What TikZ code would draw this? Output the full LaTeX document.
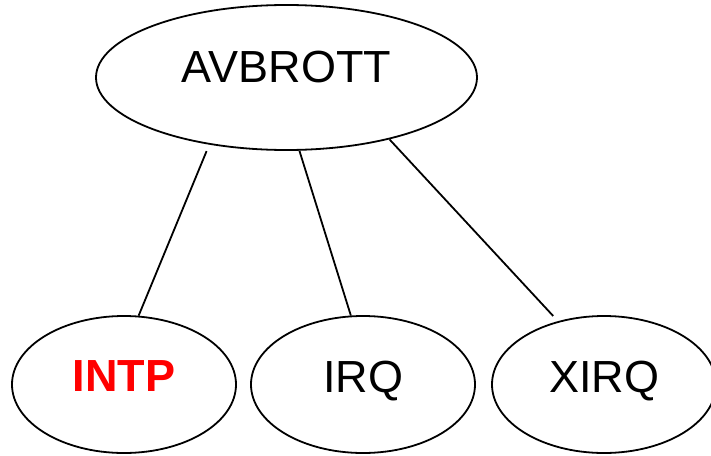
\documentclass[tikz,border=0pt]{standalone}
\usepackage{fontspec}
\setmainfont{Liberation Sans}
\usetikzlibrary{shapes.geometric}

\begin{document}
\begin{tikzpicture}[x=1pt,y=-1pt,line width=1.8pt,
    rootnode/.style={draw,ellipse,minimum width=381pt,minimum height=145pt,text depth=22pt,font=\fontsize{45}{54}\selectfont},
    leafnode/.style={draw,ellipse,minimum width=224pt,minimum height=137pt,text depth=16pt,font=\fontsize{45}{54}\selectfont}]
            \useasboundingbox (0,0) rectangle (711,455);
            \node[rootnode] (AV) at (286.5,77.5) {AVBROTT};
            \node[leafnode,text=red,font=\fontsize{45}{54}\selectfont\bfseries] (INTP) at (124,384.5) {INTP};
            \node[leafnode] (IRQ) at (363,384.5) {IRQ};
            \node[leafnode] (XIRQ) at (604,384.5) {XIRQ};
            \path[-] (AV.221) edge[shorten <=7pt] (INTP.78) (AV.280) edge (IRQ.100) (AV.329) edge[shorten >=7pt] (XIRQ.126);
\end{tikzpicture}
\end{document}
